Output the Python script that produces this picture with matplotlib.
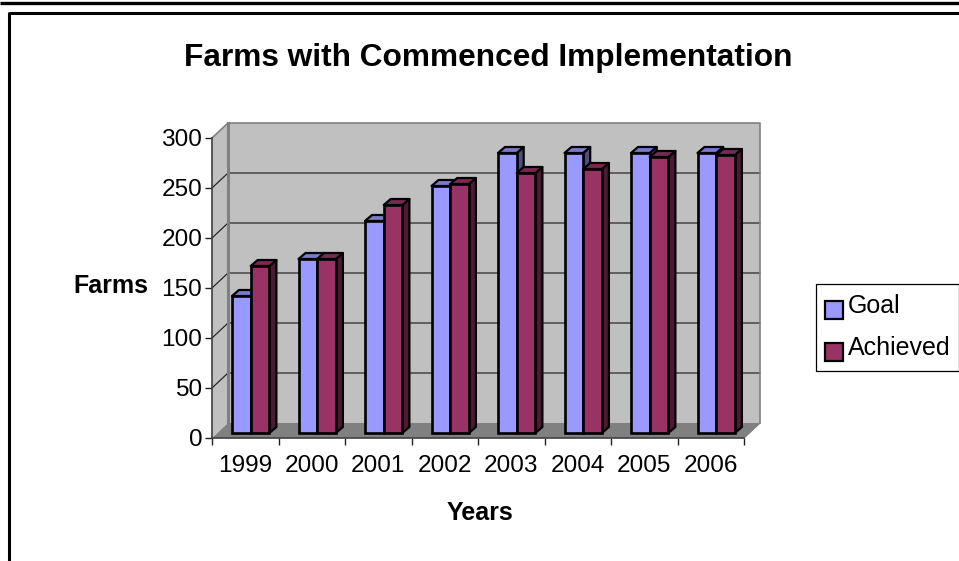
# -*- coding: utf-8 -*-
"""Farms with commenced implementation: goal vs achieved, Excel style pseudo-3D columns."""
import matplotlib
matplotlib.use("Agg")
import matplotlib.pyplot as plt
from matplotlib.patches import Patch, Rectangle
from matplotlib.lines import Line2D

plt.rcParams["font.family"] = ["Liberation Sans", "DejaVu Sans"]

YEARS = ["1999", "2000", "2001", "2002", "2003", "2004", "2005", "2006"]
GOAL = [137, 174, 212, 247, 280, 280, 280, 280]
ACHIEVED = [167, 174, 228, 249, 260, 264, 276, 278]
YTICKS = [0, 50, 100, 150, 200, 250, 300]

W, H = 959, 561
LEFT, RIGHT, BOTTOM, TOP = 212, 744, 438, 138  # front plane of the box, px
PX_X = len(YEARS) / (RIGHT - LEFT)  # data units per pixel
PX_Y = 300 / (BOTTOM - TOP)

WALL_DX, WALL_DY = 16 * PX_X, 15 * PX_Y
BAR_DX, BAR_DY = 7 * PX_X, 6 * PX_Y
BAR_W = 18.7 * PX_X
BAR_START = 20 * PX_X
BAR_LIFT = 5 * PX_Y

EDGE = "#000000"
GOAL_COLS = ("#9999FF", "#7A7ACC", "#4D4D80")  # front, top, side
ACH_COLS = ("#993366", "#7A2952", "#4D1A33")

fig = plt.figure(figsize=(W / 100, H / 100), dpi=100)
ax = fig.add_axes([LEFT / W, 1 - BOTTOM / H, (RIGHT - LEFT) / W, (BOTTOM - TOP) / H])
ax.set_xlim(0, len(YEARS))
ax.set_ylim(0, 300)
ax.patch.set_visible(False)
n = len(YEARS)

# box walls and floor
ax.fill([0, WALL_DX, WALL_DX, 0], [0, WALL_DY, 300 + WALL_DY, 300], color="#C0C0C0", lw=0, clip_on=False, zorder=1)
ax.fill([WALL_DX, n + WALL_DX, n + WALL_DX, WALL_DX], [WALL_DY, WALL_DY, 300 + WALL_DY, 300 + WALL_DY],
        color="#C0C0C0", lw=0, clip_on=False, zorder=1)
ax.fill([0, n, n + WALL_DX, WALL_DX], [0, 0, WALL_DY, WALL_DY], color="#808080", lw=0, clip_on=False, zorder=1)

for t in YTICKS[1:-1]:
    ax.plot([0, WALL_DX, n + WALL_DX], [t, t + WALL_DY, t + WALL_DY], color="#202020", lw=0.85,
            clip_on=False, zorder=2, solid_joinstyle="miter")
ax.plot([0, WALL_DX, n + WALL_DX, n + WALL_DX], [300, 300 + WALL_DY, 300 + WALL_DY, WALL_DY],
        color="#808080", lw=1.2, clip_on=False, zorder=2)
ax.plot([WALL_DX, WALL_DX], [WALL_DY, 300 + WALL_DY], color="#808080", lw=2.2, clip_on=False, zorder=2)
ax.plot([n, n + WALL_DX], [0, WALL_DY], color="#808080", lw=1, clip_on=False, zorder=2)


def draw_bars(values, offset, cols, z):
    xs = [i + BAR_START + offset for i in range(n)]
    for x, v in zip(xs, values):
        top = BAR_LIFT + v
        ax.fill([x + BAR_W, x + BAR_W + BAR_DX, x + BAR_W + BAR_DX, x + BAR_W],
                [BAR_LIFT, BAR_LIFT + BAR_DY, top + BAR_DY, top],
                facecolor=cols[2], edgecolor=EDGE, lw=1.6, clip_on=False, zorder=z, joinstyle="round")
        ax.fill([x, x + BAR_W, x + BAR_W + BAR_DX, x + BAR_DX],
                [top, top, top + BAR_DY, top + BAR_DY],
                facecolor=cols[1], edgecolor=EDGE, lw=1.6, clip_on=False, zorder=z, joinstyle="round")
    ax.bar(xs, values, BAR_W, bottom=BAR_LIFT, align="edge", color=cols[0], edgecolor=EDGE,
           linewidth=1.9, clip_on=False, zorder=z + 0.1)


draw_bars(GOAL, 0, GOAL_COLS, 3)
draw_bars(ACHIEVED, BAR_W, ACH_COLS, 4)

# axes, ticks
for s in ("top", "right"):
    ax.spines[s].set_visible(False)
for s in ("left", "bottom"):
    ax.spines[s].set_color("#404040")
    ax.spines[s].set_linewidth(1.2)
    ax.spines[s].set_zorder(2.5)
ax.set_yticks(YTICKS)
ax.set_xticks(range(n + 1))
ax.set_xticklabels([])
ax.set_xticks([i + 0.5 for i in range(n)], minor=True)
ax.set_xticklabels(YEARS, minor=True)
ax.tick_params(axis="x", which="minor", length=0, pad=12, labelsize=17.6)
ax.tick_params(axis="x", which="major", length=5, width=1, color="#202020")
ax.tick_params(axis="y", length=5, width=1, color="#202020", labelsize=17.6, pad=2)

fig.text(488 / W, 1 - 58 / H, "Farms with Commenced Implementation", fontsize=22.8, fontweight="bold",
         ha="center", va="center")
fig.text(111 / W, 1 - 286 / H, "Farms", fontsize=18, fontweight="bold", ha="center", va="center")
fig.text(480 / W, 1 - 513 / H, "Years", fontsize=18, fontweight="bold", ha="center", va="center")

# legend box runs up to the right edge of the figure
fig.add_artist(Rectangle((816 / W, 1 - 371 / H), (W - 816) / W, 87 / H, transform=fig.transFigure,
                         facecolor="white", edgecolor="black", lw=0.9))
handles = [Patch(facecolor=GOAL_COLS[0], edgecolor=EDGE, lw=1.6), Patch(facecolor=ACH_COLS[0], edgecolor=EDGE, lw=1.6)]
leg = fig.legend(handles, ["Goal", "Achieved"], loc="center left", bbox_to_anchor=(825 / W, 1 - 327 / H),
                 frameon=False, fontsize=18, handlelength=0.72, handleheight=0.72, handletextpad=0.2,
                 labelspacing=0.72, borderpad=0, borderaxespad=0)
# swatches sit a little below the text baseline
for p in leg.get_patches():
    p.set_y(p.get_y() - 4)

# page rules around the chart
for xs, ys, lw in [((0, W), (2.5, 2.5), 2.4), ((8.5, W), (12.5, 12.5), 2.2), ((8.5, 8.5), (12, H), 2.2)]:
    fig.add_artist(Line2D([x / W for x in xs], [1 - y / H for y in ys], transform=fig.transFigure,
                          color="black", lw=lw, solid_capstyle="butt"))

fig.savefig("out.png", dpi=100)
